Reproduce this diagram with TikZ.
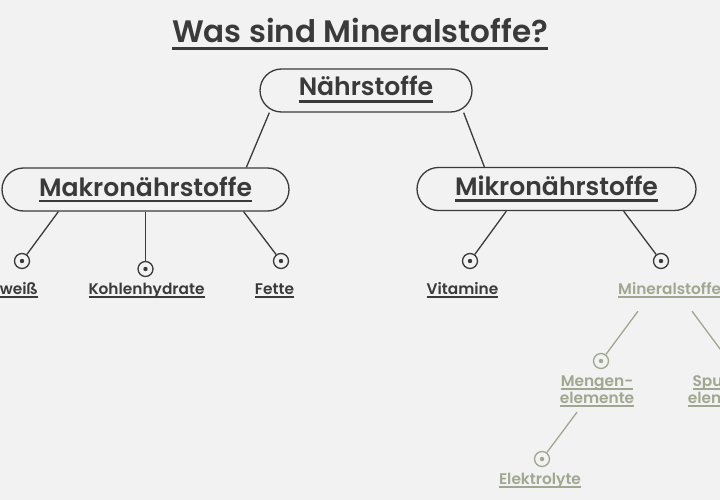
\documentclass[tikz,border=0pt]{standalone}
\usepackage{fontspec}
\setmainfont{Poppins SemiBold}
\usepackage{graphicx}
\definecolor{bg}{HTML}{F2F2F2}
\definecolor{ink}{HTML}{3A3A3A}
\definecolor{sage}{HTML}{A0A791}
\newsavebox\ulbx
\newsavebox\msbx
\newcommand\ulx[3]{\sbox\ulbx{#3}\rlap{\rule[-#1]{\wd\ulbx}{#2}}\usebox\ulbx}
\tikzset{
  pill/.style={draw=ink, line width=1.3pt, rounded corners=21.5pt, minimum height=43pt, inner sep=0pt, text=ink},
  dotc/.style={circle, draw=#1, line width=1.3pt, minimum size=15pt, inner sep=0pt,
    path picture={\fill[#1] (path picture bounding box.center) circle (2.2pt);}},
  lbl/.style={inner sep=0pt, text=ink, anchor=base, text depth=5pt},
  glbl/.style={inner sep=0pt, text=sage, anchor=base, text depth=5pt},
  conn/.style={draw=ink, line width=1.3pt},
  gconn/.style={draw=sage, line width=1.3pt},
}
\begin{document}
\sbox\msbx{\fontsize{10}{12}\selectfont Was sind Mineralstoffe?}%
\pgfmathsetmacro\tsz{10*376/\the\wd\msbx}%
\sbox\msbx{\fontsize{10}{12}\selectfont Makronährstoffe}%
\pgfmathsetmacro\bsz{10*213/\the\wd\msbx}%
\sbox\msbx{\fontsize{10}{12}\selectfont Kohlenhydrate}%
\pgfmathsetmacro\ssz{10*116/\the\wd\msbx}%
\newcommand\TF{\fontsize{\tsz}{\tsz}\selectfont}%
\newcommand\BF{\fontsize{\bsz}{\bsz}\selectfont}%
\newcommand\SF{\fontsize{\ssz}{\ssz}\selectfont}%
\begin{tikzpicture}[x=1pt,y=-1pt]
\fill[bg] (0,0) rectangle (720,500);
\useasboundingbox (0,0) rectangle (720,500);
% title
\node[lbl] (title) at (360,43) {\TF\ulx{7pt}{3pt}{Was sind Mineralstoffe?}};
% boxes
\node[pill, minimum width=212pt, text height=18pt, text depth=7pt] (nahr) at (366,90.5) {\BF\ulx{7pt}{2.6pt}{Nährstoffe}};
\node[pill, minimum width=287pt, text height=19pt, text depth=6pt] (makro) at (145.5,189.5) {\BF\ulx{6.3pt}{2.6pt}{Makronährstoffe}};
\node[pill, minimum width=279pt, text height=19pt, text depth=6pt] (mikro) at (556.5,189) {\BF\ulx{6.3pt}{2.6pt}{Mikronährstoffe}};
% circles
\node[dotc=ink] (ceiw) at (22,261) {};
\node[dotc=ink] (ckoh) at (145.5,269) {};
\node[dotc=ink] (cfet) at (281,261) {};
\node[dotc=ink] (cvit) at (470,261) {};
\node[dotc=ink] (cmin) at (661,261) {};
\node[dotc=sage] (cmen) at (601,361) {};
\node[dotc=sage] (cspu) at (729,361) {};
\node[dotc=sage] (cele) at (542,459) {};
% labels
\node[lbl, anchor=base east] (leiw) at (38,294) {\SF\ulx{4pt}{2pt}{Eiweiß}};
\node[lbl] (lkoh) at (146.5,294) {\SF\ulx{4pt}{2pt}{Kohlenhydrate}};
\node[lbl] (lfet) at (274.5,294) {\SF\ulx{4pt}{2pt}{Fette}};
\node[lbl] (lvit) at (462.5,294) {\SF\ulx{4pt}{2pt}{Vitamine}};
\node[glbl, anchor=base west] (lmin) at (618,294) {\SF\ulx{4pt}{2pt}{Mineralstoffe}};
\node[glbl] (lmena) at (597,386) {\SF\ulx{4pt}{2pt}{Mengen-}};
\node[glbl] (lmenb) at (597,403) {\SF\ulx{4pt}{2pt}{elemente}};
\node[glbl] (lspua) at (725,386) {\SF\ulx{4pt}{2pt}{Spuren-}};
\node[glbl] (lspub) at (725,403) {\SF\ulx{4pt}{2pt}{elemente}};
\node[glbl] (lele) at (540,484) {\SF\ulx{4pt}{2pt}{Elektrolyte}};
% connectors
\draw[conn] ([xshift=10pt]nahr.south west) -- ([xshift=245pt]makro.north west);
\draw[conn] ([xshift=-9pt]nahr.south east) -- ([xshift=68pt]mikro.north west);
\draw[conn] ([xshift=57pt]makro.south west) -- (ceiw);
\draw[conn] (makro.south) -- (ckoh);
\draw[conn] ([xshift=-46pt]makro.south east) -- (cfet);
\draw[conn] ([xshift=90pt]mikro.south west) -- (cvit);
\draw[conn] ([xshift=-73pt]mikro.south east) -- (cmin);
\draw[gconn] ([xshift=20pt,yshift=-12pt]lmin.south west) -- (cmen);
\draw[gconn] ([xshift=74pt,yshift=-12pt]lmin.south west) -- (cspu);
\draw[gconn] ([xshift=-20pt,yshift=-4pt]lmenb.south) -- (cele);
\end{tikzpicture}
\end{document}
